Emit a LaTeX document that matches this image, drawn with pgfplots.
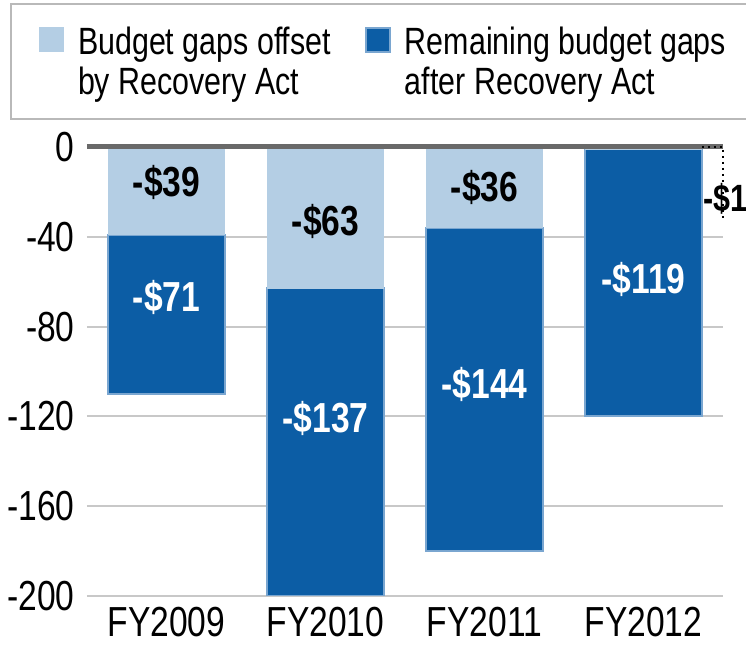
\documentclass[border=0pt]{standalone}
\usepackage{fontspec}
\setmainfont{Liberation Sans}[FakeStretch=0.8]
\usepackage{pgfplots}
\pgfplotsset{compat=1.18}
\usepackage{pgfplotstable}

\definecolor{offsetblue}{RGB}{180,206,228}
\definecolor{gapblue}{RGB}{12,93,165}
\definecolor{edgeblue}{RGB}{122,166,208}
\definecolor{gridgray}{RGB}{200,200,200}
\definecolor{zerogray}{RGB}{105,105,105}

% budget gaps, billions
\pgfplotstableread{
x offset remaining
0 -39 -71
1 -63 -137
2 -36 -144
3 -1 -119
}\gaps

% label positions (value shown as -$v)
\pgfplotstableread{
x y v
0 -16 39
1 -33 63
2 -18 36
}\darklabels
\pgfplotstableread{
x y v
0 -67 71
1 -121 137
2 -106 144
3 -59 119
}\whitelabels
\pgfplotstableread{
x y v
3.375 -23 1
}\sidelabel

\begin{document}
\begin{tikzpicture}
\pgfplotsset{
  base/.style={
    scale only axis, width=318pt, height=224.5pt,
    xmin=-0.5, xmax=3.5, ymin=-200, ymax=0,
    enlargelimits=false,
  },
}
\begin{axis}[base, name=main,
    ybar stacked, bar width=0.735,
    axis line style={draw=none},
    major tick length=0pt,
    ytick={-200,-160,...,0},
    ymajorgrids, grid style={gridgray, line width=1pt},
    /pgf/number format/assume math mode=true,
    yticklabel style={font=\fontsize{21}{21}\selectfont, anchor=east, inner sep=0pt, xshift=-6pt},
    xtick={0,1,2,3},
    xticklabels={FY2009,FY2010,FY2011,FY2012},
    xticklabel style={font=\fontsize{21}{21}\selectfont, anchor=north, inner sep=0pt, yshift=-5.5pt},
    legend style={at={(rel axis cs:-0.121,1.321)}, anchor=north west,
      draw=gray!55, line width=1pt, inner xsep=14pt, inner ysep=9pt,
      font=\fontsize{19}{20}\selectfont, legend columns=2,
      cells={anchor=north west, align=left, inner sep=0pt},
      /tikz/every odd column/.append style={column sep=5pt},
      /tikz/every even column/.append style={column sep=15pt}},
    legend image code/.code={\fill[#1] (0pt,-3pt) rectangle (12pt,-15pt);},
  ]
\addplot [fill=offsetblue, draw=offsetblue, line width=0.5pt] table [x=x, y=offset] {\gaps};
\addplot [fill=gapblue, draw=edgeblue, line width=1pt] table [x=x, y=remaining] {\gaps};
\legend{Budget gaps offset\\by Recovery Act, Remaining budget gaps\\after Recovery Act}
\end{axis}

\begin{axis}[base, at={(main.south west)}, anchor=south west,
    hide axis, clip=false]
\addplot [zerogray, line width=2.5pt] coordinates {(-0.5,0) (3.5,0)};
\addplot [black, dotted, line width=1pt] coordinates {(3.367,0) (3.5,0) (3.5,-32)};
\addplot [draw=none, mark=none, point meta=explicit symbolic,
    nodes near coords={-\$\pgfplotspointmeta},
    nodes near coords style={anchor=center, text=black, font=\bfseries\fontsize{21}{21}\selectfont}]
    table [x=x, y=y, meta=v] {\darklabels};
\addplot [draw=none, mark=none, point meta=explicit symbolic,
    nodes near coords={-\$\pgfplotspointmeta},
    nodes near coords style={anchor=center, text=white, font=\bfseries\fontsize{21}{21}\selectfont}]
    table [x=x, y=y, meta=v] {\whitelabels};
\addplot [draw=none, mark=none, point meta=explicit symbolic,
    nodes near coords={-\$\pgfplotspointmeta},
    nodes near coords style={anchor=west, inner sep=0pt, text=black, font=\bfseries\fontsize{19}{19}\selectfont}]
    table [x=x, y=y, meta=v] {\sidelabel};
\coordinate (bbsw) at (rel axis cs:-0.1368,-0.127);
\coordinate (bbne) at (rel axis cs:1.0362,1.3274);
\end{axis}
\pgfresetboundingbox
\path[use as bounding box] (bbsw) rectangle (bbne);
\end{tikzpicture}
\end{document}
